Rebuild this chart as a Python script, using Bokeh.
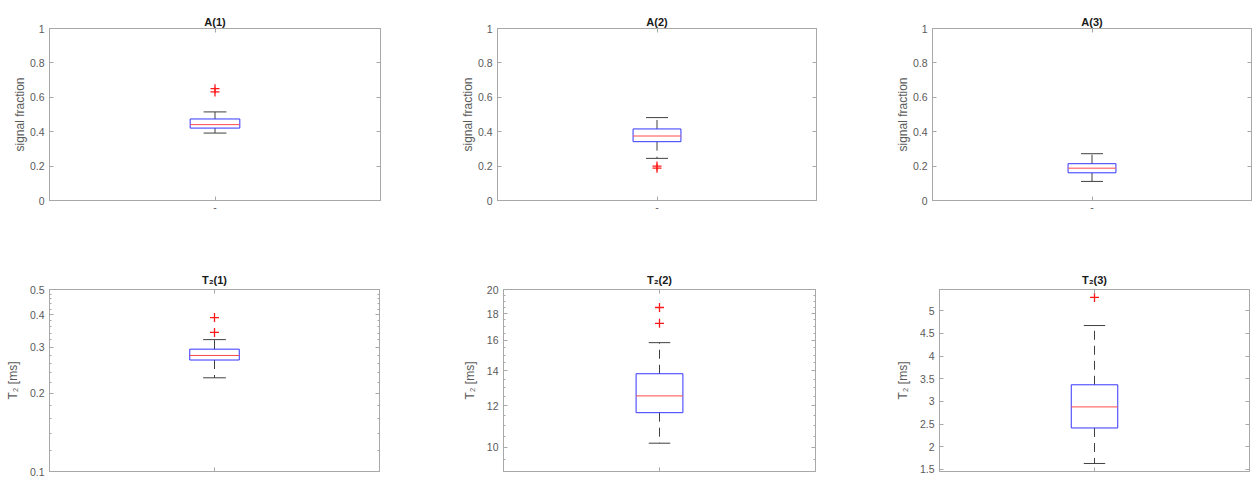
import numpy as np
from bokeh.plotting import figure
from bokeh.layouts import row, column
from bokeh.models import Range1d, FixedTicker, LinearAxis, LogAxis, ColumnDataSource
from bokeh.embed import file_html
from bokeh.resources import INLINE

# ---------------- data ----------------
titles = ["A(1)", "A(2)", "A(3)", "T\u2082(1)", "T\u2082(2)", "T\u2082(3)"]
y_labels = ["signal fraction", "signal fraction", "signal fraction",
            "T\u2082 [ms]", "T\u2082 [ms]", "T\u2082 [ms]"]
box_x = [1]
x_tick_labels = ["-"]

whisker_low = [0.392, 0.245, 0.111, 0.229, 10.19, 1.632]
q1 = [0.421, 0.342, 0.161, 0.268, 11.65, 2.415]
median = [0.441, 0.375, 0.188, 0.279, 12.54, 2.880]
q3 = [0.474, 0.416, 0.214, 0.295, 13.82, 3.368]
whisker_high = [0.515, 0.482, 0.272, 0.321, 15.84, 4.675]
outliers = [[0.631, 0.650], [0.188, 0.200], [], [0.342, 0.390], [17.24, 18.48], [5.295]]

y_limits = [(0, 1), (0, 1), (0, 1), (0.1, 0.5), (9.0, 20.0), (1.455, 5.47)]
y_ticks = [[0, 0.2, 0.4, 0.6, 0.8, 1]] * 3 + [
    [0.1, 0.2, 0.3, 0.4, 0.5],
    [10, 12, 14, 16, 18, 20],
    [1.5, 2, 2.5, 3, 3.5, 4, 4.5, 5],
]
y_tick_labels = [["0", "0.2", "0.4", "0.6", "0.8", "1"]] * 3 + [
    ["0.1", "0.2", "0.3", "0.4", "0.5"],
    ["10", "12", "14", "16", "18", "20"],
    ["1.5", "2", "2.5", "3", "3.5", "4", "4.5", "5"],
]
log_panels = [False, False, False, True, True, False]

# ---------------- style ----------------
FONT = "Liberation Sans"
frame_color = "#a8a8a8"
tick_label_color = "#5a5a5a"
box_color = "#3535ff"
median_color = "#ff4a4a"
whisker_color = "#404040"
outlier_color = "#ff1a1a"
HALF_BOX = 0.075
HALF_CAP = 0.0345


def minor_for(i):
    if i == 3:
        m = np.round(np.arange(0.10, 0.5001, 0.02), 3)
    elif i == 4:
        m = np.round(np.arange(9.0, 20.001, 0.5), 3)
    else:
        return []
    return [float(v) for v in m if all(abs(v - t) > 1e-9 for t in y_ticks[i])]


def style_axis(ax):
    ax.axis_line_color = frame_color
    ax.major_tick_line_color = frame_color
    ax.minor_tick_line_color = frame_color
    ax.major_tick_in = 4
    ax.major_tick_out = 0
    ax.minor_tick_in = 2
    ax.minor_tick_out = 0
    ax.major_label_text_font = FONT
    ax.major_label_text_color = tick_label_color
    ax.axis_label_text_font = FONT
    ax.axis_label_text_color = tick_label_color


def hide_labels(ax):
    ax.major_label_text_font_size = "1px"
    ax.major_label_text_color = None
    ax.major_label_standoff = 0


def blank_axis(cls, ticker):
    ax = cls(ticker=ticker)
    style_axis(ax)
    hide_labels(ax)
    return ax


def panel(i, fw, fh, bl, br, bt, bb, lab_standoff, title_standoff, top_row):
    log = log_panels[i]
    p = figure(frame_width=fw, frame_height=fh,
               min_border_left=bl, min_border_right=br,
               min_border_top=bt, min_border_bottom=bb,
               x_range=Range1d(0.5, 1.5), y_range=Range1d(*y_limits[i]),
               y_axis_type="log" if log else "linear",
               output_backend="svg", toolbar_location=None, title=titles[i])
    p.title.align = "center"
    p.title.text_font = FONT
    p.title.text_font_size = "11px"
    p.title.text_font_style = "bold"
    p.title.text_color = "#1a1a1a"
    p.title.standoff = title_standoff
    p.xgrid.visible = False
    p.ygrid.visible = False
    p.outline_line_color = frame_color
    p.border_fill_color = "white"
    p.background_fill_color = "white"

    # left axis
    yax = p.yaxis[0]
    style_axis(yax)
    yax.ticker = FixedTicker(ticks=y_ticks[i], minor_ticks=minor_for(i))
    yax.major_label_overrides = {t: l for t, l in zip(y_ticks[i], y_tick_labels[i])}
    yax.major_label_text_font_size = "10.5px"
    yax.major_label_standoff = 5
    yax.axis_label = y_labels[i]
    yax.axis_label_text_font_size = "12px"
    yax.axis_label_text_font_style = "normal"
    yax.axis_label_standoff = lab_standoff

    # bottom axis
    xax = p.xaxis[0]
    style_axis(xax)
    xax.ticker = FixedTicker(ticks=box_x)
    if top_row:
        xax.major_label_overrides = {box_x[0]: x_tick_labels[0]}
        xax.major_label_text_font_size = "10.5px"
        xax.major_label_standoff = 2
    else:
        hide_labels(xax)

    # mirrored axes (ticks only)
    rcls = LogAxis if log else LinearAxis
    p.add_layout(blank_axis(rcls, FixedTicker(ticks=y_ticks[i], minor_ticks=minor_for(i))), "right")
    p.add_layout(blank_axis(LinearAxis, FixedTicker(ticks=box_x)), "above")

    # box plot glyphs
    src = ColumnDataSource(dict(
        x=box_x, left=[x - HALF_BOX for x in box_x], right=[x + HALF_BOX for x in box_x],
        cl=[x - HALF_CAP for x in box_x], cr=[x + HALF_CAP for x in box_x],
        lo=[whisker_low[i]], q1=[q1[i]], med=[median[i]], q3=[q3[i]], hi=[whisker_high[i]],
    ))
    p.segment(x0="x", y0="q3", x1="x", y1="hi", source=src, line_color=whisker_color,
              line_width=1, line_dash="9 6")
    p.segment(x0="x", y0="q1", x1="x", y1="lo", source=src, line_color=whisker_color,
              line_width=1, line_dash="9 6")
    p.segment(x0="cl", y0="hi", x1="cr", y1="hi", source=src, line_color=whisker_color, line_width=1)
    p.segment(x0="cl", y0="lo", x1="cr", y1="lo", source=src, line_color=whisker_color, line_width=1)
    p.quad(left="left", right="right", bottom="q1", top="q3", source=src,
           fill_color=None, line_color=box_color, line_width=1)
    p.segment(x0="left", y0="med", x1="right", y1="med", source=src,
              line_color=median_color, line_width=1)
    if outliers[i]:
        osrc = ColumnDataSource(dict(x=[box_x[0]] * len(outliers[i]), y=outliers[i]))
        p.scatter(x="x", y="y", source=osrc, marker="cross", size=9,
                  line_color=outlier_color, line_width=1.3)
    return p


# top row: frames 49-380, 497-816, 932-1251 ; y 28-200
p1 = panel(0, 331, 172, 49, 60, 28, 48, 0, 1, True)
p2 = panel(1, 319, 172, 57, 64, 28, 48, 0, 1, True)
p3 = panel(2, 319, 172, 52, 2, 28, 48, 0, 1, True)
# bottom row: frames 49-379, 503-815, 939-1249 ; y 289-471
p4 = panel(3, 330, 182, 49, 61, 41, 6, 7, 7, False)
p5 = panel(4, 312, 182, 63, 65, 41, 6, 7, 7, False)
p6 = panel(5, 310, 182, 59, 4, 41, 6, 7, 7, False)

layout = column(row(p1, p2, p3), row(p4, p5, p6))

open("out.html", "w").write(file_html(layout, INLINE))
